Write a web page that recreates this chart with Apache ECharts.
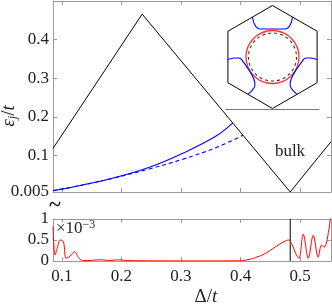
<!DOCTYPE html>
<html><head><meta charset="utf-8">
<script src="https://cdn.jsdelivr.net/npm/echarts@6/dist/echarts.min.js"></script>
<style>html,body{margin:0;padding:0;background:#fff}#c{width:332px;height:308px}</style>
</head><body><div id="c"></div>
<script>
// ---- top panel: eps_j / t vs Delta / t ----
const bulkX = [0.085, 0.2348, 0.4835, 0.552];
const bulkY = [0.118, 0.466, 0.005, 0.1355];
const blueSolidX = [0.085, 0.135, 0.191, 0.247, 0.303, 0.359, 0.387];
const blueSolidY = [0.0085, 0.0233, 0.0433, 0.069, 0.1054, 0.150, 0.184];
const blueDashX = [0.085, 0.135, 0.191, 0.247, 0.303, 0.359, 0.404];
const blueDashY = [0.0085, 0.0233, 0.0425, 0.0648, 0.090, 0.120, 0.152];
const topYTicks = [0.005, 0.1, 0.2, 0.3, 0.4];
const xTicks = [0.1, 0.2, 0.3, 0.4, 0.5];
// ---- bottom panel (x 1e-3) ----
const redX = [0.085, 0.0885, 0.092, 0.097, 0.1025, 0.107, 0.114, 0.121, 0.129, 0.136, 0.15, 0.165, 0.18, 0.195, 0.21, 0.23, 0.26, 0.30, 0.35, 0.39, 0.403, 0.415, 0.425, 0.442, 0.459, 0.473, 0.481, 0.487, 0.4926, 0.498, 0.5054, 0.5138, 0.5222, 0.5305, 0.536, 0.5406, 0.5484, 0.552];
const redY = [0.83, 0.14, 0.30, 0.50, 0.46, 0.064, 0.12, 0.22, 0.06, 0.01, 0.015, 0.03, 0.012, 0.028, 0.01, 0.006, 0.003, 0.002, 0.002, 0.004, 0.01, 0.04, 0.08, 0.18, 0.34, 0.46, 0.50, 0.38, 0.18, 0.064, 0.64, 0.064, 0.61, 0.09, 0.38, 0.33, 0.74, 1.2];
const gapCloseX = 0.4835;
const bottomYTicks = [0, 0.5, 1];
// ---- inset (hexagonal Brillouin zone, unit circumradius) ----
const hexX = [0, 0.866, 0.866, 0, -0.866, -0.866, 0];
const hexY = [1, 0.5, -0.5, -1, -0.5, 0.5, 1];
const fsTopX = [-0.39, -0.36, -0.31, -0.25, 0.25, 0.31, 0.36, 0.39];
const fsTopY = [0.775, 0.66, 0.575, 0.543, 0.543, 0.575, 0.66, 0.775];
const fsLeftX = [-0.476, -0.392, -0.343, -0.345, -0.595, -0.653, -0.752, -0.866];
const fsLeftY = [-0.725, -0.642, -0.556, -0.488, -0.055, -0.0195, -0.018, -0.05];
const fsRightX = [0.866, 0.752, 0.653, 0.595, 0.345, 0.343, 0.392, 0.476];
const fsRightY = [-0.05, -0.018, -0.0195, -0.055, -0.488, -0.556, -0.642, -0.725];
const centre = [0, 0];

const zip = (a, b) => a.map((v, i) => [v, b[i]]);
const SERIF = 'Liberation Serif';
const AX = '#9a9a9a';
const TXT = '#222';

function xAx(grid, pos, min, max, labels) {
  return {
    type: 'value', gridIndex: grid, position: pos, min: min, max: max,
    axisLine: { show: true, onZero: false, lineStyle: { color: AX, width: 1 } },
    axisTick: { show: true, inside: true, length: 4, customValues: xTicks, lineStyle: { color: AX } },
    axisLabel: labels ? { show: true, customValues: xTicks, margin: 7, fontFamily: SERIF, fontSize: 17, color: TXT } : { show: false },
    splitLine: { show: false }
  };
}
function yAx(grid, pos, min, max, ticks, labels) {
  return {
    type: 'value', gridIndex: grid, position: pos, min: min, max: max,
    axisLine: { show: true, onZero: false, lineStyle: { color: AX, width: 1 } },
    axisTick: { show: true, inside: true, length: 4, customValues: ticks, lineStyle: { color: AX } },
    axisLabel: labels ? { show: true, customValues: labels, margin: 4, fontFamily: SERIF, fontSize: 17, color: TXT } : { show: false },
    splitLine: { show: false }
  };
}

const chart = echarts.init(document.getElementById('c'), null, { renderer: 'canvas' });
chart.setOption({
  animation: false,
  backgroundColor: '#fff',
  grid: [
    { left: 53, top: 1, width: 278, height: 191 },
    { left: 53, top: 219, width: 278, height: 42 },
    { left: 226, top: 5, width: 93, height: 104 }
  ],
  xAxis: [
    xAx(0, 'bottom', 0.085, 0.552, false),
    xAx(0, 'top', 0.085, 0.552, false),
    xAx(1, 'bottom', 0.085, 0.552, true),
    xAx(1, 'top', 0.085, 0.552, false),
    { type: 'value', gridIndex: 2, min: -0.903, max: 0.903, position: 'bottom',
      axisLine: { show: true, onZero: false, lineStyle: { color: '#777', width: 1 } },
      axisTick: { show: false }, axisLabel: { show: false }, splitLine: { show: false } }
  ],
  yAxis: [
    yAx(0, 'left', 0.005, 0.5, [0.1, 0.2, 0.3, 0.4], topYTicks),
    yAx(0, 'right', 0.005, 0.5, [0.1, 0.2, 0.3, 0.4], null),
    yAx(1, 'left', 0, 1, [0.5], bottomYTicks),
    yAx(1, 'right', 0, 1, [0.5], null),
    { type: 'value', gridIndex: 2, min: -1.01, max: 1.01, show: false }
  ],
  series: [
    { type: 'line', xAxisIndex: 0, yAxisIndex: 0, data: zip(bulkX, bulkY), symbol: 'none', silent: true,
      lineStyle: { color: '#000', width: 1 }, z: 3 },
    { type: 'line', xAxisIndex: 0, yAxisIndex: 0, data: zip(blueSolidX, blueSolidY), symbol: 'none', smooth: 0.4, silent: true,
      lineStyle: { color: '#0000ff', width: 1.1 }, z: 2 },
    { type: 'line', xAxisIndex: 0, yAxisIndex: 0, data: zip(blueDashX, blueDashY), symbol: 'none', smooth: 0.4, silent: true,
      lineStyle: { color: '#0000ff', width: 1.1, type: [4, 3] }, z: 2 },
    { type: 'line', xAxisIndex: 2, yAxisIndex: 2, data: [[gapCloseX, 0], [gapCloseX, 1]], symbol: 'none', silent: true,
      lineStyle: { color: '#000', width: 1 }, z: 2 },
    { type: 'line', xAxisIndex: 2, yAxisIndex: 2, data: zip(redX, redY), symbol: 'none', smooth: 0.35, silent: true, clip: true,
      lineStyle: { color: '#ff0000', width: 1 }, z: 3 },
    { type: 'line', xAxisIndex: 4, yAxisIndex: 4, data: zip(hexX, hexY), symbol: 'none', silent: true,
      lineStyle: { color: '#000', width: 1 } },
    { type: 'line', xAxisIndex: 4, yAxisIndex: 4, data: zip(fsTopX, fsTopY), symbol: 'none', smooth: 0.3, silent: true,
      lineStyle: { color: '#0000ff', width: 1.1 } },
    { type: 'line', xAxisIndex: 4, yAxisIndex: 4, data: zip(fsLeftX, fsLeftY), symbol: 'none', smooth: 0.3, silent: true,
      lineStyle: { color: '#0000ff', width: 1.1 } },
    { type: 'line', xAxisIndex: 4, yAxisIndex: 4, data: zip(fsRightX, fsRightY), symbol: 'none', smooth: 0.3, silent: true,
      lineStyle: { color: '#0000ff', width: 1.1 } },
    { type: 'scatter', xAxisIndex: 4, yAxisIndex: 4, data: [centre], symbol: 'circle', symbolSize: 53, silent: true,
      itemStyle: { color: 'rgba(0,0,0,0)', borderColor: '#ff0000', borderWidth: 1.3 } },
    { type: 'scatter', xAxisIndex: 4, yAxisIndex: 4, data: [centre], symbol: 'circle', symbolSize: 48, silent: true,
      itemStyle: { color: 'rgba(0,0,0,0)', borderColor: '#000', borderWidth: 1.1, borderType: [3, 3] } }
  ],
  graphic: [
    { type: 'text', x: 9, y: 116, rotation: Math.PI / 2,
      style: { text: '{e|ε}{j|j}{s|/}{e|t}', align: 'center', verticalAlign: 'middle', textAlign: 'center', textVerticalAlign: 'middle',
        rich: {
          e: { fontFamily: SERIF, fontStyle: 'italic', fontSize: 19, fill: TXT, lineHeight: 20 },
          j: { fontFamily: SERIF, fontStyle: 'italic', fontSize: 12, fill: TXT, lineHeight: 20, verticalAlign: 'bottom' },
          s: { fontFamily: SERIF, fontSize: 19, fill: TXT, lineHeight: 20 }
        } } },
    { type: 'text', x: 206, y: 297,
      style: { text: '{d|Δ/}{e|t}', align: 'center', verticalAlign: 'middle', textAlign: 'center', textVerticalAlign: 'middle',
        rich: {
          d: { fontFamily: SERIF, fontSize: 19, fill: TXT },
          e: { fontFamily: SERIF, fontStyle: 'italic', fontSize: 19, fill: TXT }
        } } },
    { type: 'text', x: 290, y: 152,
      style: { text: 'bulk', font: '17px "Liberation Serif"', fill: TXT, align: 'center', verticalAlign: 'middle', textAlign: 'center', textVerticalAlign: 'middle' } },
    { type: 'text', x: 56, y: 229,
      style: { text: '{a|×10}{s|−3}', align: 'left', verticalAlign: 'middle', textAlign: 'left', textVerticalAlign: 'middle',
        rich: {
          a: { fontFamily: SERIF, fontSize: 17, fill: TXT, lineHeight: 20 },
          s: { fontFamily: SERIF, fontSize: 12, fill: TXT, lineHeight: 20, verticalAlign: 'top' }
        } } },
    { type: 'text', x: 55, y: 205,
      style: { text: '~', font: 'bold 22px "Liberation Serif"', fill: TXT, align: 'center', verticalAlign: 'middle', textAlign: 'center', textVerticalAlign: 'middle' } }
  ]
});
</script>
</body></html>
